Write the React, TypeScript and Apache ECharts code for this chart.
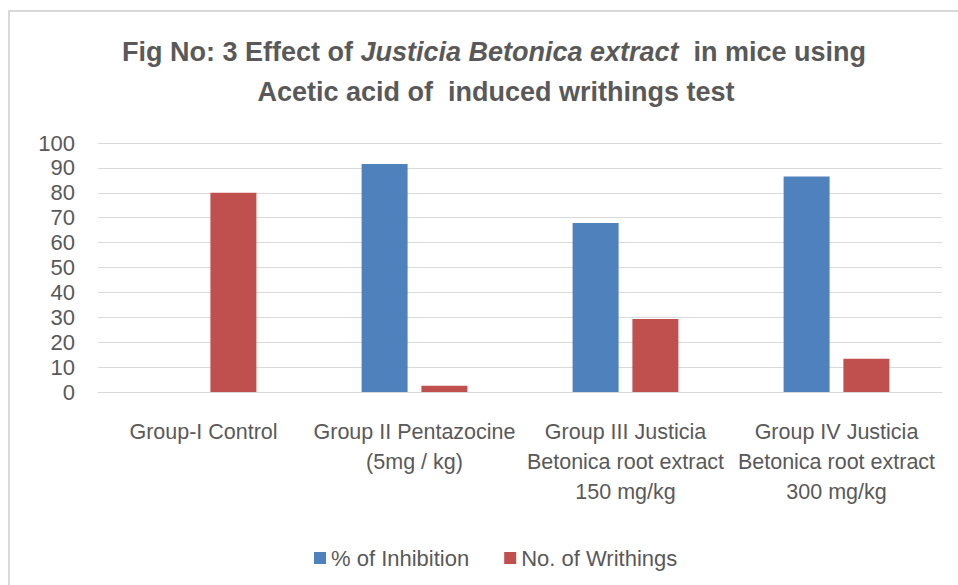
import React, { useEffect, useRef } from "react";
import * as echarts from "echarts";

const categories = [
  "Group-I Control",
  "Group II Pentazocine\n(5mg / kg)",
  "Group III Justicia\nBetonica root extract\n150 mg/kg",
  "Group IV Justicia\nBetonica root extract\n300 mg/kg",
];
const inhibition = [0, 91.6, 67.9, 86.5];
const writhings = [80, 2.5, 29.3, 13.4];
const seriesNames = ["% of Inhibition", "No. of Writhings"];
const yTicks = { min: 0, max: 100, interval: 10 };

const FONT = "'Liberation Sans', Arial, sans-serif";
const GREY = "#595959";

export default function App() {
  const ref = useRef<HTMLDivElement>(null);
  useEffect(() => {
    if (!ref.current) return;
    const chart = echarts.init(ref.current, null, { renderer: "svg" });
    chart.setOption({
      animation: false,
      backgroundColor: "#ffffff",
      title: [
        {
          text: "{b|Fig No: 3 Effect of }{i|Justicia Betonica extract}{b|  in mice using}",
          left: 489,
          textAlign: "center",
          top: 32,
          textStyle: {
            rich: {
              b: { fontFamily: FONT, fontSize: 27, fontWeight: "bold", color: GREY, lineHeight: 30 },
              i: { fontFamily: FONT, fontSize: 27, fontWeight: "bold", fontStyle: "italic", color: GREY, lineHeight: 30 },
            },
          },
        },
        {
          text: "Acetic acid of  induced writhings test",
          left: 491,
          textAlign: "center",
          top: 72,
          textStyle: { fontFamily: FONT, fontSize: 27, fontWeight: "bold", color: GREY, lineHeight: 30 },
        },
      ],
      graphic: [
        {
          type: "rect",
          shape: { x: 9, y: 11, width: 1000, height: 1000 },
          style: { fill: "none", stroke: "#d9d9d9", lineWidth: 2 },
          silent: true,
        },
      ],
      legend: {
        data: seriesNames,
        left: 309,
        top: 542,
        itemWidth: 12,
        itemHeight: 12,
        itemGap: 35,
        icon: "rect",
        textStyle: { fontFamily: FONT, fontSize: 22, color: GREY },
      },
      grid: { left: 98, right: 16, top: 143, bottom: 193 },
      xAxis: {
        type: "category",
        data: categories,
        axisLine: { lineStyle: { color: "#d9d9d9", width: 1 } },
        axisTick: { show: false },
        axisLabel: {
          interval: 0,
          margin: 25,
          fontFamily: FONT,
          fontSize: 21.5,
          lineHeight: 30,
          color: GREY,
        },
      },
      yAxis: {
        type: "value",
        min: yTicks.min,
        max: yTicks.max,
        interval: yTicks.interval,
        axisLine: { show: false },
        axisTick: { show: false },
        splitLine: { lineStyle: { color: "#d9d9d9", width: 1 } },
        axisLabel: { margin: 23, fontFamily: FONT, fontSize: 22, color: GREY },
      },
      series: [
        {
          name: seriesNames[0],
          type: "bar",
          data: inhibition,
          barWidth: 46,
          barGap: "30%",
          itemStyle: { color: "#4F81BD" },
        },
        {
          name: seriesNames[1],
          type: "bar",
          data: writhings,
          barWidth: 46,
          itemStyle: { color: "#C0504D" },
        },
      ],
    });
    return () => chart.dispose();
  }, []);
  return (
    <div
      ref={ref}
      style={{ position: "fixed", left: 0, top: 0, width: 958, height: 585 }}
    />
  );
}
